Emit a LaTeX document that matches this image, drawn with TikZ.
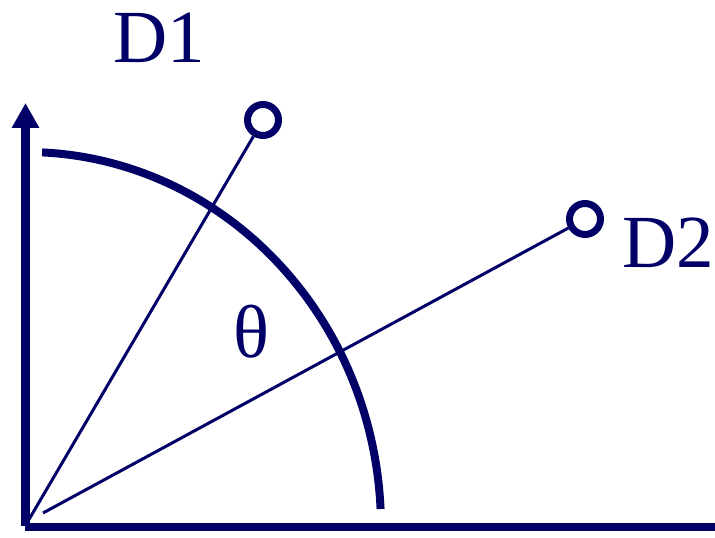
\documentclass[tikz,border=0pt]{standalone}
\usepackage{fontspec}
\setmainfont{Liberation Serif}
\usetikzlibrary{arrows.meta,calc}
\definecolor{navy}{RGB}{0,0,102}
\tikzset{
  axis/.style={draw=navy, line width=8.5pt},
  ray/.style={draw=navy, line width=3pt},
  arcline/.style={draw=navy, line width=8pt},
  det/.style={circle, draw=navy, line width=7pt, fill=white, minimum size=31pt, inner sep=0pt},
  lbl/.style={text=navy, font=\fontsize{75}{78}\selectfont, inner sep=0pt},
}
\begin{document}
\begin{tikzpicture}[x=1pt,y=1pt]
\useasboundingbox (0,0) rectangle (715,538);
\coordinate (O) at (26,11);
\coordinate (vb) at (25.5,12);
\coordinate (vt) at (25.5,435);
\coordinate (hl) at (25,11);
\coordinate (hr) at (715,11);
\coordinate (r1) at (27.5,16);
\coordinate (r2) at (43,25);
\node[det] (d1) at (263,418) {};
\node[det] (d2) at (585,319) {};
% axes
\draw[axis, -{Triangle[length=25pt,width=26pt]}] (vb) -- (vt);
\draw[axis] (hl) -- (hr);
% arc
\draw[arcline] ($(O)+(2.75:355 and 375)$) arc[start angle=2.75, end angle=87.4, x radius=355, y radius=375];
% rays
\draw[ray] (r1) -- (d1);
\draw[ray] (r2) -- (d2);
% labels
\node[lbl, anchor=base west] (l1) at (113,475) {D1};
\node[lbl, anchor=base west] (l2) at (622,270) {D2};
\node[lbl, anchor=base] (th) at (251.5,180) {θ};
\end{tikzpicture}
\end{document}
